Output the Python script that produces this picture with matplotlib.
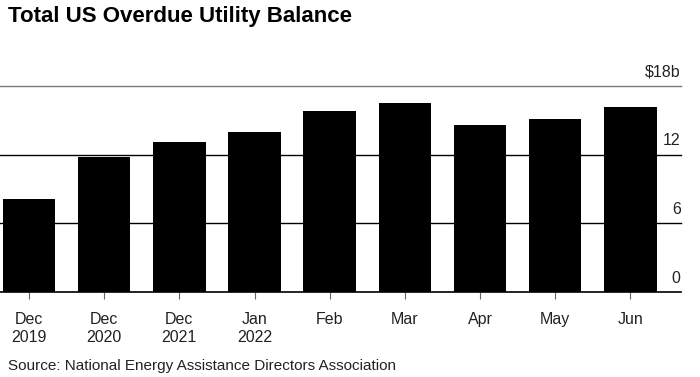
import numpy as np
import matplotlib.pyplot as plt

plt.rcParams['font.family'] = ['Liberation Sans', 'DejaVu Sans']

# Overdue balance, billions of dollars
labels = ['Dec\n2019', 'Dec\n2020', 'Dec\n2021', 'Jan\n2022', 'Feb', 'Mar', 'Apr', 'May', 'Jun']
values = [8.1, 11.8, 13.1, 14.0, 15.8, 16.5, 14.6, 15.1, 16.1]
yticks = [0, 6, 12, 18]
ytick_labels = ['0', '6', '12', '$18b']

fig = plt.figure(figsize=(7, 3.77), dpi=100)
ax = fig.add_axes([0.0, 0.2247, 0.9724, 0.548])

x = np.arange(len(values))
ax.bar(x, values, width=0.7, color='black', zorder=2)

# horizontal gridlines, the top one lighter
for v, lab in zip(yticks, ytick_labels):
    col = '#777777' if v == 18 else 'black'
    lw = 1.0 if v != 0 else 1.2
    ax.axhline(v, color=col, lw=lw, zorder=1 if v else 3, clip_on=False)
    ax.text(1.0, v + 0.55, lab, transform=ax.get_yaxis_transform(),
            ha='right', va='bottom', fontsize=11.5, color='#222222')

ax.set_xlim(-0.386, 8.67)
ax.set_ylim(0, 18)
ax.set_xticks(x)
ax.set_xticklabels(labels, fontsize=11.5, color='#222222', linespacing=1.25)
ax.tick_params(axis='x', length=5, width=0.8, color='#666666', pad=9)
ax.set_yticks([])
for s in ax.spines.values():
    s.set_visible(False)

fig.text(0.011, 0.955, 'Total US Overdue Utility Balance', fontsize=16, fontweight='bold',
         ha='left', va='center')
fig.text(0.011, 0.01, 'Source: National Energy Assistance Directors Association', fontsize=11,
         ha='left', va='bottom', color='#222222')

fig.savefig('out.png', dpi=100)
